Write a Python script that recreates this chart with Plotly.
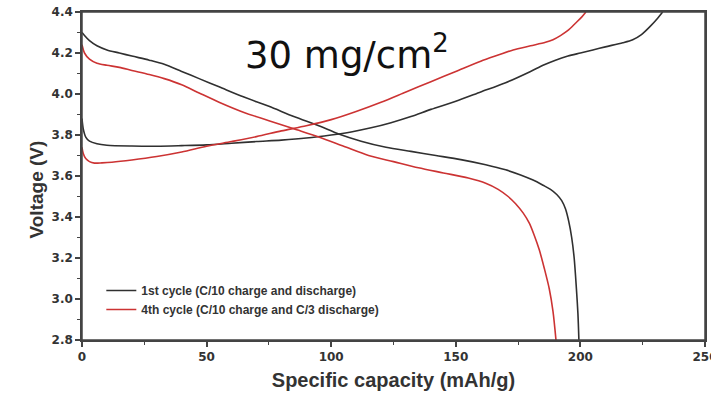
import plotly.graph_objects as go

# 1st cycle (C/10 charge and discharge)
c1_dis_x = [0, 1, 3, 6, 10, 15, 20, 27, 33, 40, 47, 55, 65, 75, 85, 95, 103, 112, 122, 132, 142, 152, 162, 170, 176, 181, 185, 188, 190.5, 192.5, 194, 195.3, 196.5, 197.5, 198.4, 199, 199.4]
c1_dis_y = [4.30, 4.285, 4.26, 4.235, 4.215, 4.20, 4.185, 4.165, 4.145, 4.11, 4.075, 4.035, 3.985, 3.94, 3.89, 3.845, 3.805, 3.77, 3.74, 3.72, 3.70, 3.68, 3.655, 3.63, 3.605, 3.58, 3.555, 3.535, 3.51, 3.48, 3.44, 3.38, 3.30, 3.20, 3.05, 2.93, 2.80]
c1_chg_x = [0, 0.5, 1.5, 3, 6, 10, 20, 30, 40, 50, 60, 70, 80, 90, 100, 108, 116, 124, 132, 140, 150, 160, 170, 180, 185, 190, 195, 200, 205, 210, 217, 221, 224.5, 228, 231, 233]
c1_chg_y = [3.88, 3.83, 3.79, 3.77, 3.757, 3.75, 3.746, 3.745, 3.748, 3.752, 3.76, 3.768, 3.775, 3.785, 3.80, 3.815, 3.835, 3.86, 3.89, 3.925, 3.965, 4.01, 4.055, 4.11, 4.14, 4.165, 4.185, 4.20, 4.215, 4.23, 4.25, 4.265, 4.29, 4.33, 4.37, 4.40]

# 4th cycle (C/10 charge and C/3 discharge)
c4_dis_x = [0, 1, 3, 6, 10, 15, 20, 27, 33, 40, 47, 55, 65, 75, 85, 95, 105, 115, 125, 135, 145, 155, 162, 167, 171, 174, 177, 179.5, 181.5, 183.5, 185.5, 187.5, 189, 190.2]
c4_dis_y = [4.24, 4.20, 4.17, 4.15, 4.14, 4.13, 4.115, 4.095, 4.075, 4.045, 4.005, 3.96, 3.91, 3.87, 3.83, 3.79, 3.745, 3.70, 3.67, 3.64, 3.615, 3.59, 3.565, 3.535, 3.50, 3.465, 3.42, 3.37, 3.31, 3.24, 3.15, 3.05, 2.94, 2.80]
c4_chg_x = [0, 0.5, 1.5, 3, 5, 8, 12, 20, 30, 40, 50, 60, 70, 80, 90, 100, 110, 120, 130, 140, 150, 160, 167, 173, 180, 186, 189, 192, 195, 198, 200.5, 202.2]
c4_chg_y = [3.74, 3.71, 3.685, 3.67, 3.663, 3.664, 3.667, 3.678, 3.695, 3.717, 3.745, 3.768, 3.792, 3.82, 3.845, 3.875, 3.915, 3.96, 4.01, 4.06, 4.11, 4.16, 4.19, 4.215, 4.235, 4.252, 4.265, 4.285, 4.31, 4.345, 4.375, 4.40]

names = ["1st cycle (C/10 charge and discharge)", "4th cycle (C/10 charge and C/3 discharge)"]
colors = ["#303030", "#cc3333"]

ARIAL = "Arial, Liberation Sans, sans-serif"
DEJAVU = "DejaVu Sans, sans-serif"
AXC = "#444"

fig = go.Figure()
for (dx, dy, cx, cy), name, col in zip(
    [(c1_dis_x, c1_dis_y, c1_chg_x, c1_chg_y), (c4_dis_x, c4_dis_y, c4_chg_x, c4_chg_y)],
    names, colors):
    fig.add_trace(go.Scatter(x=dx, y=dy, mode="lines", name=name, legendgroup=name,
                             line=dict(color=col, width=1.6, shape="spline", smoothing=0.8)))
    fig.add_trace(go.Scatter(x=cx, y=cy, mode="lines", name=name, legendgroup=name, showlegend=False,
                             line=dict(color=col, width=1.6, shape="spline", smoothing=0.8)))

axis_common = dict(
    showline=True, linecolor=AXC, linewidth=1.5, mirror=True, automargin=False,
    ticks="outside", ticklen=5, tickwidth=1.5, tickcolor=AXC,
    showgrid=False, zeroline=False, ticklabeloverflow="allow",
    tickfont=dict(family=DEJAVU, size=12, color="#333", weight="bold"),
    minor=dict(ticks="outside", ticklen=3, tickwidth=1.2, tickcolor=AXC),
)

fig.update_xaxes(range=[0, 250], dtick=50, minor_dtick=25,
                 title=dict(text="Specific capacity (mAh/g)", standoff=10,
                            font=dict(family=ARIAL, size=20, color="#333", weight="bold")),
                 **axis_common)
fig.update_yaxes(range=[2.8, 4.4], dtick=0.2, tickformat=".1f", minor_dtick=0.1,
                 **axis_common)

fig.add_shape(type="rect", xref="paper", yref="paper", x0=0, y0=0, x1=1, y1=1,
              line=dict(color=AXC, width=1.5), layer="above")

# y-axis title placed as rotated text
fig.add_annotation(text="Voltage (V)", xref="paper", yref="paper",
                   x=(23 - 82) / 623, y=(340 - 190) / 328, showarrow=False, textangle=-90,
                   font=dict(family=ARIAL, size=19, color="#333", weight="bold"))

fig.add_annotation(text="30 mg/cm<sup>2</sup>", xref="paper", yref="paper",
                   x=(347 - 82) / 623, y=(340 - 26) / 328, showarrow=False,
                   font=dict(family=DEJAVU, size=37, color="#111"))

fig.update_layout(
    width=711, height=400,
    margin=dict(l=82, r=6, t=12, b=60, autoexpand=False),
    paper_bgcolor="white", plot_bgcolor="white",
    showlegend=True,
    legend=dict(x=0.031, y=0.195, xanchor="left", yanchor="top",
                bgcolor="rgba(0,0,0,0)", tracegroupgap=0,
                font=dict(family=ARIAL, size=12, color="#333", weight="bold")),
)

fig.write_html("out.html")
